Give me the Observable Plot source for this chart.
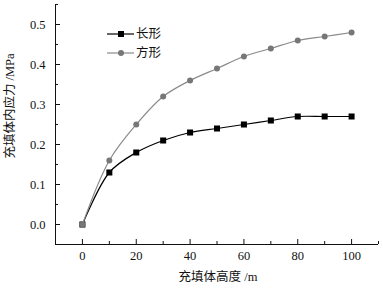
<!DOCTYPE html>
<html><head><meta charset="utf-8">
<script src="https://cdn.jsdelivr.net/npm/d3@7"></script>
<script src="https://cdn.jsdelivr.net/npm/@observablehq/plot@0.6"></script>
<style>
body{margin:0;background:#fff;}
#chart{position:relative;width:383px;height:288px;}
</style>
</head><body><div id="chart"></div>
<script>
const heights = [0,10,20,30,40,50,60,70,80,90,100];
const rectStress = [0,0.13,0.18,0.21,0.23,0.24,0.25,0.26,0.27,0.27,0.27];
const squareStress = [0,0.16,0.25,0.32,0.36,0.39,0.42,0.44,0.46,0.47,0.48];
const seriesNames = ["长形","方形"];
const xTicks = [0,20,40,60,80,100];
const xMinor = [-10,10,30,50,70,90,110];
const yTicks = [0,0.1,0.2,0.3,0.4,0.5];
const yMinor = [-0.05,0.05,0.15,0.25,0.35,0.45,0.55];
const xDomain = [-10,110];
const yDomain = [-0.05,0.55];
const xLabel = "充填体高度 /m";
const yLabel = "充填体内应力 /MPa";

const rectData = heights.map((h,i)=>({h, v: rectStress[i]}));
const sqData = heights.map((h,i)=>({h, v: squareStress[i]}));
const font = "Liberation Serif, Times New Roman, Noto Sans CJK SC, serif";

const plot = Plot.plot({
  width: 383, height: 288,
  marginLeft: 55, marginRight: 5, marginTop: 4, marginBottom: 44,
  style: {fontFamily: font, fontSize: "12.5px", color: "#111", background: "#fff"},
  x: {domain: xDomain},
  y: {domain: yDomain},
  marks: [
    Plot.ruleX([xDomain[0]], {stroke: "#111"}),
    Plot.ruleY([yDomain[0]], {stroke: "#111"}),
    Plot.axisY({ticks: yTicks, tickSize: -5, tickPadding: 15, tickFormat: d3.format(".1f"), fontSize: 12.5, label: null}),
    Plot.axisY({ticks: yMinor, tickSize: -3, tickFormat: () => "", label: null}),
    Plot.axisX({ticks: xTicks, tickSize: -5, tickPadding: 12, fontSize: 12.5, label: null}),
    Plot.axisX({ticks: xMinor, tickSize: -3, tickFormat: () => "", label: null}),
    Plot.line(rectData, {x: "h", y: "v", stroke: "#000", strokeWidth: 1.2, curve: "catmull-rom"}),
    Plot.dot(rectData, {x: "h", y: "v", symbol: "square", r: 3.4, fill: "#000", stroke: "none"}),
    Plot.line(sqData, {x: "h", y: "v", stroke: "#8a8a8a", strokeWidth: 1.2, curve: "catmull-rom"}),
    Plot.dot(sqData, {x: "h", y: "v", symbol: "circle", r: 3, fill: "#777", stroke: "none"})
  ]
});
document.getElementById("chart").appendChild(plot);

const svg = d3.select(plot);
// axis titles
svg.append("text").attr("transform", "translate(10,106) rotate(-90)")
  .attr("text-anchor", "middle").attr("dy", "0.35em").attr("font-family", font)
  .attr("font-size", 12.5).attr("fill", "#111").text(yLabel);
svg.append("text").attr("x", 218).attr("y", 277)
  .attr("text-anchor", "middle").attr("dy", "0.35em").attr("font-family", font)
  .attr("font-size", 12.5).attr("fill", "#111").text(xLabel);

// legend inside plot area
const lg = svg.append("g").attr("font-family", font).attr("font-size", 12.5);
const rows = [
  {name: seriesNames[0], color: "#000", line: "#000", sym: "square", y: 34},
  {name: seriesNames[1], color: "#777", line: "#8a8a8a", sym: "circle", y: 53}
];
rows.forEach(r => {
  lg.append("line").attr("x1", 107).attr("x2", 134).attr("y1", r.y).attr("y2", r.y)
    .attr("stroke", r.line).attr("stroke-width", 1.2);
  if (r.sym === "square") lg.append("rect").attr("x", 118).attr("y", r.y-3).attr("width", 6).attr("height", 6).attr("fill", r.color);
  else lg.append("circle").attr("cx", 121).attr("cy", r.y).attr("r", 3).attr("fill", r.color);
  lg.append("text").attr("x", 136).attr("y", r.y).attr("dy", "0.35em").attr("text-anchor", "start").attr("fill", "#111").text(r.name);
});
</script>
</body></html>
